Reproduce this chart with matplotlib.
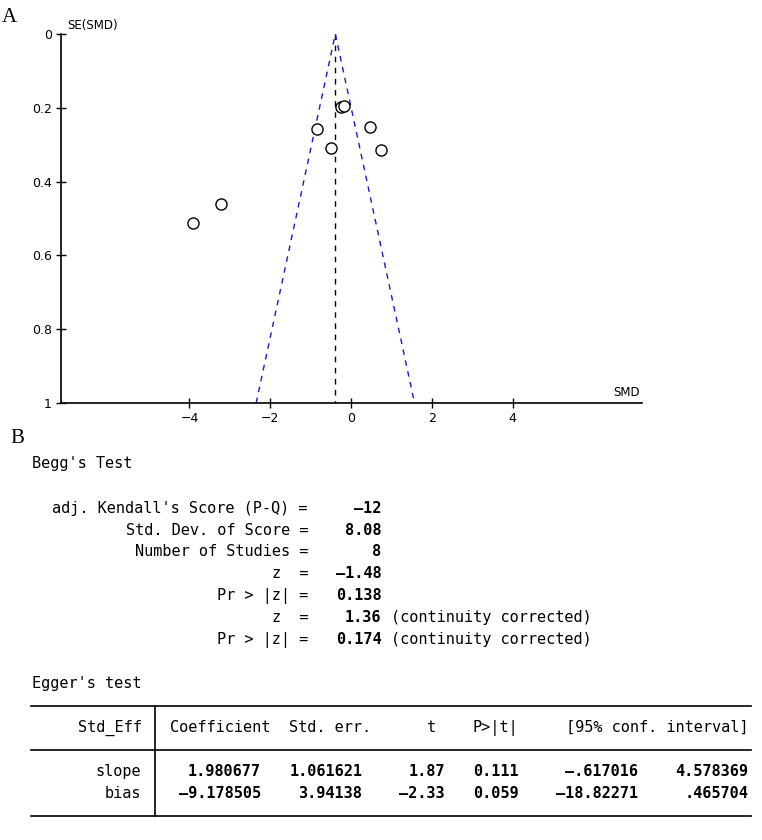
import matplotlib
matplotlib.use("Agg")
import matplotlib.pyplot as plt

# funnel plot data
smd = [-3.91, -3.22, -0.85, -0.49, -0.24, -0.18, 0.46, 0.75]
se_smd = [0.512, 0.461, 0.258, 0.310, 0.197, 0.194, 0.253, 0.315]
pooled = -0.39
x_ticks = [-4, -2, 0, 2, 4]
y_ticks = [0, 0.2, 0.4, 0.6, 0.8, 1]
y_ticklabels = ["0", "0.2", "0.4", "0.6", "0.8", "1"]

# Begg's test
begg_labels = ["adj. Kendall's Score (P-Q) =", "Std. Dev. of Score =",
               "Number of Studies =", "z  =", "Pr > |z| =", "z  =", "Pr > |z| ="]
begg_values = ["-12", "8.08", "8", "-1.48", "0.138", "1.36", "0.174"]
begg_notes = ["", "", "", "", "", "(continuity corrected)", "(continuity corrected)"]

# Egger's test
egger_header = ["Coefficient", "Std. err.", "t", "P>|t|", "[95% conf. interval]"]
egger_rows = ["slope", "bias"]
egger_values = [["1.980677", "1.061621", "1.87", "0.111", "-.617016", "4.578369"],
                ["-9.178505", "3.94138", "-2.33", "0.059", "-18.82271", ".465704"]]

W, H = 762, 840
fig = plt.figure(figsize=(W / 100, H / 100), dpi=100)


def fx(px):
    return px / W


def fy(py):
    return 1 - py / H


# ---- panel A ----
ax = fig.add_axes([fx(61), fy(403), (642 - 61) / W, (403 - 34) / H])
ax.set_xlim(-7.18, 7.20)
ax.set_ylim(1, 0)
for s in ["top", "right"]:
    ax.spines[s].set_visible(False)
for s in ["left", "bottom"]:
    ax.spines[s].set_linewidth(1.2)

ax.plot([pooled, pooled], [0, 1], color="black", ls=(0, (4, 4)), lw=1)
ax.plot([pooled - 1.96, pooled, pooled + 1.96], [1, 0, 1],
        color="#1a1ad6", ls=(0, (4, 4)), lw=1)
ax.plot(smd, se_smd, "o", ms=8, mfc="white", mec="black", mew=1, ls="none")

ax.set_xticks(x_ticks)
ax.set_xticklabels([str(t).replace("-", "\u2212") for t in x_ticks])
ax.set_yticks(y_ticks)
ax.set_yticklabels(y_ticklabels)
ax.tick_params(direction="inout", length=7, width=1, labelsize=9, pad=3)
fig.text(fx(67), fy(26), "SE(SMD)", fontsize=8.5, va="center", ha="left")
fig.text(fx(640), fy(393), "SMD", fontsize=8.5, va="center", ha="right")

fig.text(fx(2), fy(18), "A", family="Liberation Serif", fontsize=15, va="center", ha="left")
fig.text(fx(10), fy(438), "B", family="Liberation Serif", fontsize=15, va="center", ha="left")

# ---- panel B: monospace output ----
mono = "DejaVu Sans Mono"
fs = 11
cw = 9.2  # px per character
x0 = 32
bl = 5  # baseline offset from line centre, px


def mtext(px, py, s, ha="left", bold=False):
    fig.text(fx(px), fy(py + bl), s, family=mono, fontsize=fs, va="baseline", ha=ha,
             weight="bold" if bold else "normal")


mtext(x0, 463, "Begg's Test")
begg_y = [508, 530, 551, 573, 595, 617, 639]
for lab, val, note, y in zip(begg_labels, begg_values, begg_notes, begg_y):
    mtext(x0 + 30 * cw, y, lab, ha="right")
    mtext(x0 + 38 * cw, y, val.replace("-", "\u2013"), ha="right", bold=True)
    if note:
        mtext(x0 + 39 * cw, y, note)

mtext(x0, 683, "Egger's test")

t0 = 31
t1 = 751
for y in [706, 750, 816]:
    fig.add_artist(plt.Line2D([fx(t0), fx(t1)], [fy(y), fy(y)], color="black", lw=1.2))
fig.add_artist(plt.Line2D([fx(t0 + 13.5 * cw)] * 2, [fy(706), fy(816)], color="black", lw=1.2))

head_ends = [26, 37, 44, 53, 78]
mtext(t0 + 12 * cw, 727, "Std_Eff", ha="right")
for h, e in zip(egger_header, head_ends):
    mtext(t0 + e * cw, 727, h, ha="right")

val_ends = [25, 36, 45, 53, 66, 78]
for name, vals, y in zip(egger_rows, egger_values, [771, 793]):
    mtext(t0 + 12 * cw, y, name, ha="right")
    for v, e in zip(vals, val_ends):
        mtext(t0 + e * cw, y, v.replace("-", "\u2013"), ha="right", bold=True)

fig.savefig("out.png", dpi=100)
